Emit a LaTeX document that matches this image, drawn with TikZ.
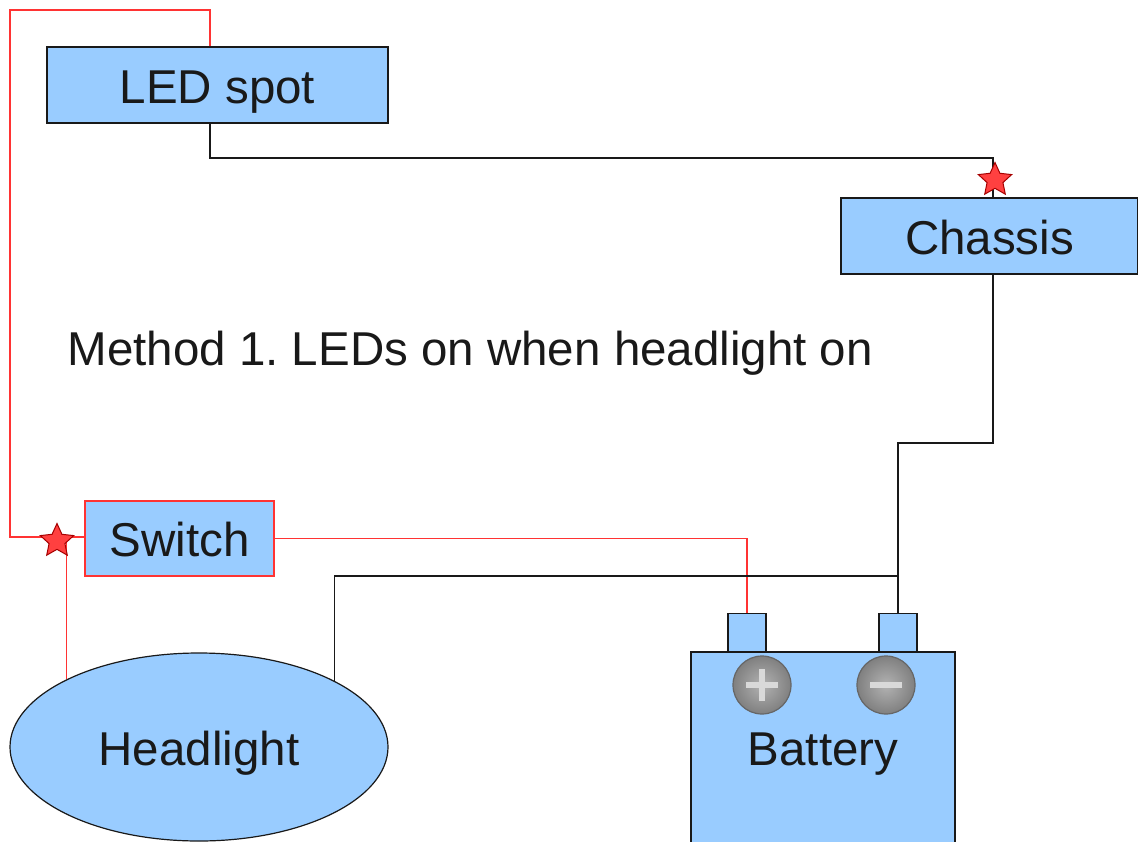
\documentclass[tikz,border=0pt]{standalone}
\usepackage{fontspec}
\setmainfont{Liberation Sans}
\frenchspacing
\usetikzlibrary{shapes.geometric}
\definecolor{boxblue}{HTML}{99CCFF}
\definecolor{wirered}{HTML}{FF3333}
\begin{document}
\begin{tikzpicture}[x=1pt,y=-1pt,
  lbl/.style={font=\fontsize{47.5}{52}\selectfont, text=black!90},
  clbl/.style={lbl, text height=36pt, text depth=0pt},
  box/.style={draw=black!90, fill=boxblue, line width=1.2pt, inner sep=0pt, clbl},
  rbox/.style={box, draw=wirered},
  term/.style={draw=black!90, fill=boxblue, line width=1.2pt, inner sep=0pt, minimum width=38pt, minimum height=38pt},
  blk/.style={draw=black!90, line width=1.1pt},
  rw/.style={draw=wirered, line width=1.1pt},
  junct/.style={star, star points=5, star point ratio=2.1, fill=red!75!white, draw=red!65!black, line width=1pt, inner sep=0pt, minimum size=35pt},
  knob/.style={circle, draw=black!60, inner color=black!30, outer color=black!50, line width=1.2pt, minimum size=58pt, inner sep=0pt},
  sign/.style={draw=black!15, line width=6pt}
]
\clip (0,0) rectangle (1138,841);
\fill[white] (0,0) rectangle (1138,841);

\node[box, minimum width=341pt, minimum height=76pt] (led) at (217.5,85) {LED spot};
\node[box, minimum width=297pt, minimum height=76pt] (ch) at (989.5,236) {Chassis};
\node[rbox, minimum width=189pt, minimum height=75pt] (sw) at (179.5,538.5) {Switch};
\node[ellipse, draw=black!90, fill=boxblue, line width=1.2pt, inner sep=0pt, minimum width=378pt, minimum height=188pt, clbl] (hl) at (199,747) {Headlight};
\node[draw=black!90, fill=boxblue, line width=1.2pt, inner sep=0pt, minimum width=264pt, minimum height=200pt] (bat) at (823,752) {};
\node[lbl, anchor=base] (battxt) at (823,765) {Battery};
\node[term, anchor=south] (pos) at (747,652) {};
\node[term, anchor=south] (neg) at (898,652) {};
\node[knob] (kp) at (762,685) {};
\node[knob] (kn) at (886,685) {};
\draw[sign] ([xshift=-16pt]kp.center) -- ([xshift=16pt]kp.center);
\draw[sign] ([yshift=-16pt]kp.center) -- ([yshift=16pt]kp.center);
\draw[sign] ([xshift=-16pt]kn.center) -- ([xshift=16pt]kn.center);

\node[lbl, anchor=base west] (title) at (64,365) {Method 1. LEDs on when headlight on};

\coordinate (r1) at (10,10);
\coordinate (s1) at (57,537);
\coordinate (c1) at (993,158);
\coordinate (b2) at (898,443);
\coordinate (j1) at (898,576);
\coordinate (ledn) at ([xshift=-7.5pt]led.north);
\coordinate (leds) at ([xshift=-7.5pt]led.south);
\coordinate (chn) at ([xshift=3.5pt]ch.north);
\coordinate (chs) at ([xshift=3.5pt]ch.south);

% red wires
\draw[rw] (ledn) |- (r1) |- (s1);
\draw[rw] (s1) -- (sw.west |- s1);
\coordinate (hlr) at (hl.153.7);
\draw[rw] (hlr |- s1) -- (hlr);
\draw[rw] (sw.east) -| (pos.north);

% black wires
\draw[blk] (leds) |- (c1) -- (chn);
\draw[blk] (chs) |- (b2) -- (neg.north);
\draw[blk] (hl.26.3) |- (j1);

% junction stars
\node[junct] (st1) at (57,541) {};
\node[junct] (st2) at (995,180) {};
\end{tikzpicture}
\end{document}
